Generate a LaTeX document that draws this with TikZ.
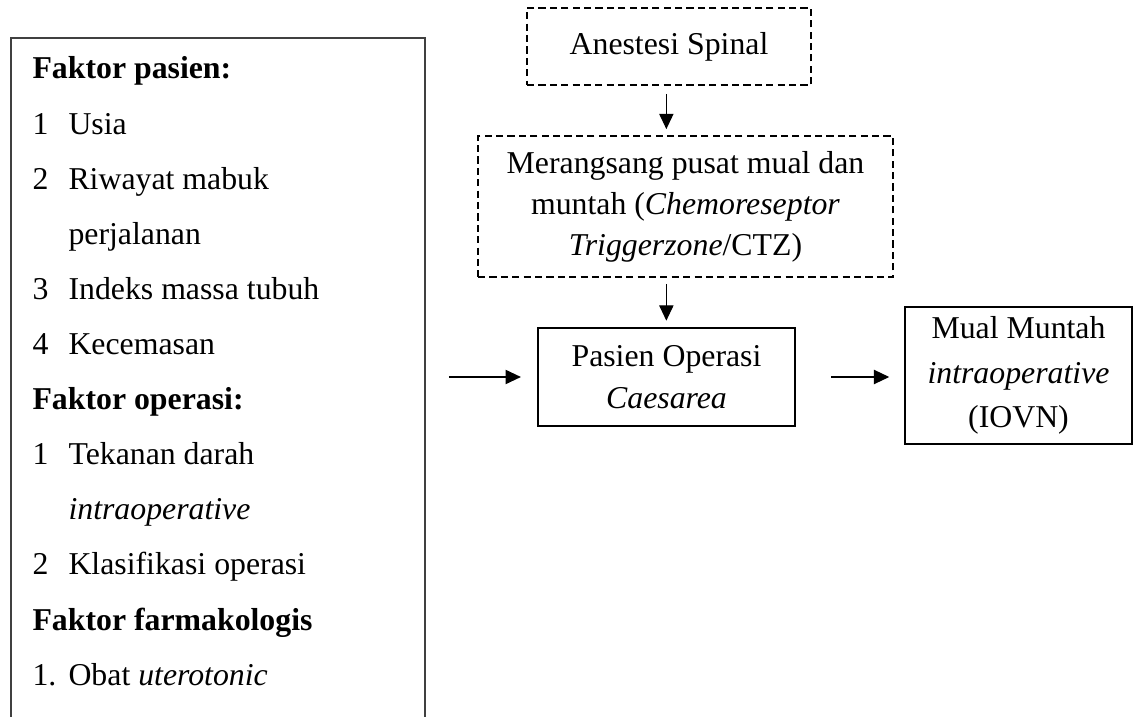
\documentclass[tikz,border=0pt]{standalone}
\usepackage{fontspec}
\setmainfont{Liberation Serif}
\usetikzlibrary{arrows.meta,positioning,calc}
\newcommand{\pxl}{0.3774pt}

\begin{document}
\fontsize{12}{15.5}\selectfont
\begin{tikzpicture}[x=\pxl,y=-\pxl,>={Triangle[length=5.8pt,width=5.4pt]},
  bx/.style={draw,line width=0.45pt,inner sep=0pt,align=center},
  dbx/.style={bx,line width=0.6pt,dash pattern=on 2.7pt off 1.6pt},
  tx/.style={inner sep=0pt,anchor=base west},
  hd/.style={tx,font=\bfseries},
  arr/.style={->,line width=0.45pt}]
\useasboundingbox (0,0) rectangle (1141,717);

% ===== left panel (open at the bottom) =====
\coordinate (lnw) at (11,38); \coordinate (lne) at (425,38);
\coordinate (lsw) at (11,717); \coordinate (lse) at (425,717);
\draw[line width=0.55pt,black!75] (lsw)--(lnw)--(lne)--(lse);

\node[hd] (h0) at (32,79) {Faktor pasien:};
\node[hd] (h6) at (32,79+55.1*6) {Faktor operasi:};
\node[hd] (h10) at (32,79+55.1*10) {Faktor farmakologis};
\foreach \k/\n in {1/1,2/2,4/3,5/4,7/1,9/2,11/1.}
  \node[tx] (n\k) at (32,79+55.1*\k) {\n};
\foreach \k/\t in {1/Usia,2/Riwayat mabuk,3/perjalanan,4/Indeks massa tubuh,5/Kecemasan,
  7/Tekanan darah,8/\textit{intraoperative},9/Klasifikasi operasi,11/Obat \textit{uterotonic}}
  \node[tx] (t\k) at (68,79+55.1*\k) {\t};

% ===== flow =====
\node[dbx,minimum width=107.2pt,minimum height=29.1pt] (sp) at (669,46.5) {Anestesi Spinal};
\node[dbx,minimum width=156.6pt,minimum height=53.2pt] (ctz) at (685.5,206.5)
  {Merangsang pusat mual dan\\muntah (\textit{Chemoreseptor}\\\textit{Triggerzone}/CTZ)};
\node[bx,line width=0.9pt,minimum width=97pt,minimum height=37pt] (ps) at (666.5,377)
  {Pasien Operasi\\[0.5pt]\textit{Caesarea}};
\node[bx,minimum width=85.7pt,minimum height=51.7pt] (mv) at (1018.5,375.5)
  {Mual Muntah\\[1.2pt]\textit{intraoperative}\\[1.2pt](IOVN)};

% ===== arrows =====
\draw[arr,shorten <=3pt,shorten >=2.3pt] ([xshift=-1pt]sp.south) -- ([xshift=-1pt]sp.south |- ctz.north);
\draw[arr,shorten <=2.3pt,shorten >=2.3pt] ([xshift=-1pt]ctz.south -| sp.south) -- ([xshift=-1pt]sp.south |- ps.north);
\draw[arr,shorten <=9pt,shorten >=6pt] (lne |- ps.west) -- (ps.west);
\draw[arr,shorten <=13.2pt,shorten >=5.7pt] (ps.east) -- (ps.east -| mv.west);
\end{tikzpicture}
\end{document}
